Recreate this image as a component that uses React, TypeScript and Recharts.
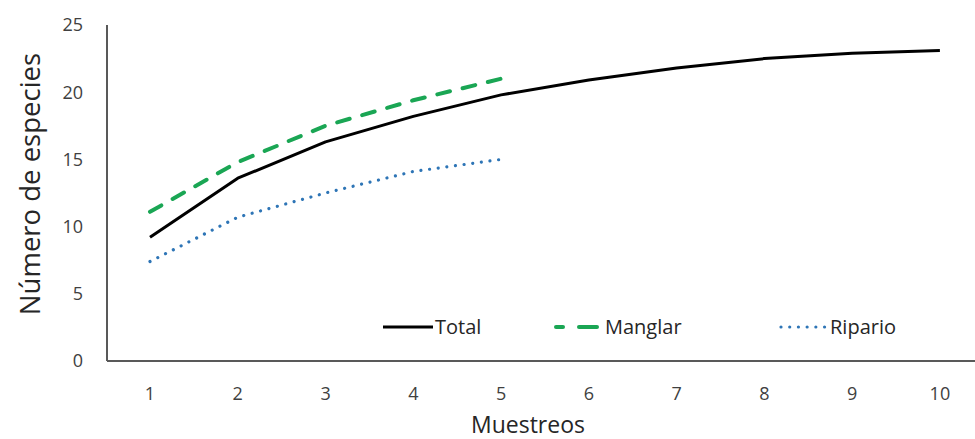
import React from 'react';
import { LineChart, Line, XAxis, YAxis, Legend } from 'recharts';

const muestreos = [1, 2, 3, 4, 5, 6, 7, 8, 9, 10];
const total = [9.2, 13.6, 16.3, 18.2, 19.8, 20.9, 21.8, 22.5, 22.9, 23.1];
const manglar = [11.1, 14.8, 17.5, 19.4, 21.0];
const ripario = [7.4, 10.7, 12.5, 14.1, 15.0];
const yTicks = [0, 5, 10, 15, 20, 25];
const seriesNames = ['Total', 'Manglar', 'Ripario'];

const data = muestreos.map((m, i) => ({
  m,
  total: total[i],
  manglar: i < manglar.length ? manglar[i] : null,
  ripario: i < ripario.length ? ripario[i] : null,
}));

const FONT = '"Open Sans", sans-serif';

const styles = [
  { key: 'total', color: '#000000', width: 3, dash: undefined as string | undefined, cap: 'butt' as const },
  { key: 'manglar', color: '#1aa654', width: 4, dash: '13 13', cap: 'round' as const },
  { key: 'ripario', color: '#2e75b6', width: 3.2, dash: '0.01 8.7', cap: 'round' as const },
];

const YLabel = (props: any) => {
  const vb = props.viewBox || { x: 0, y: 0, width: 0, height: 0 };
  const cx = 29;
  const cy = vb.y + vb.height / 2 - 9;
  return (
    <text
      x={cx}
      y={cy}
      transform={`rotate(-90 ${cx} ${cy})`}
      textAnchor="middle"
      dominantBaseline="central"
      fontFamily={FONT}
      fontSize={27.5}
      fill="#262626"
    >
      Número de especies
    </text>
  );
};

const XLabel = (props: any) => {
  const vb = props.viewBox || { x: 0, y: 0, width: 0, height: 0 };
  const cx = vb.x + vb.width / 2 - 13;
  const cy = vb.y + 63;
  return (
    <text x={cx} y={cy} textAnchor="middle" dominantBaseline="central" fontFamily={FONT} fontSize={23} fill="#262626">
      Muestreos
    </text>
  );
};

const itemWidths = [170, 225, 140];

const Sample = ({ s }: { s: (typeof styles)[number] }) => {
  if (s.key === 'manglar') {
    return (
      <svg width={50} height={10} style={{ marginRight: 2 }}>
        <line x1={3} y1={5} x2={10} y2={5} stroke={s.color} strokeWidth={s.width} strokeLinecap="round" />
        <line x1={26} y1={5} x2={44} y2={5} stroke={s.color} strokeWidth={s.width} strokeLinecap="round" />
      </svg>
    );
  }
  return (
    <svg width={50} height={10} style={{ marginRight: 2 }}>
      <line
        x1={s.cap === 'round' ? 3 : 0}
        y1={5}
        x2={s.cap === 'round' ? 48 : 50}
        y2={5}
        stroke={s.color}
        strokeWidth={s.width}
        strokeDasharray={s.dash}
        strokeLinecap={s.cap}
      />
    </svg>
  );
};

const LegendContent = () => (
  <div style={{ display: 'flex', fontFamily: FONT, fontSize: 20, color: '#262626', alignItems: 'center' }}>
    {styles.map((s, i) => (
      <div key={s.key} style={{ display: 'flex', alignItems: 'center', width: itemWidths[i] }}>
        <Sample s={s} />
        <span>{seriesNames[i]}</span>
      </div>
    ))}
  </div>
);

export default function App() {
  return (
    <div style={{ position: 'absolute', left: 0, top: 0, width: 975, height: 439, background: '#fff' }}>
      <LineChart width={975} height={439} data={data} margin={{ top: 25, right: 0, bottom: 0, left: 0 }}>
        <XAxis
          dataKey="m"
          type="number"
          domain={[0.51, 10.4]}
          allowDataOverflow
          ticks={muestreos}
          interval={0}
          height={78}
          tickLine={false}
          tickMargin={20}
          axisLine={{ stroke: '#595959', strokeWidth: 2 }}
          tick={{ fontFamily: FONT, fontSize: 18, fill: '#404040' }}
          label={<XLabel />}
        />
        <YAxis
          type="number"
          domain={[0, 25]}
          ticks={yTicks}
          interval={0}
          width={107}
          tickLine={false}
          tickMargin={18}
          axisLine={{ stroke: '#595959', strokeWidth: 2 }}
          tick={{ fontFamily: FONT, fontSize: 18, fill: '#404040' }}
          label={<YLabel />}
        />
        <Legend
          layout="horizontal"
          verticalAlign="middle"
          align="center"
          content={<LegendContent />}
          wrapperStyle={{ position: 'absolute', left: 383, top: 313, width: 560, height: 28 }}
        />
        {styles.map((s, i) => (
          <Line
            key={s.key}
            type="linear"
            dataKey={s.key}
            name={seriesNames[i]}
            stroke={s.color}
            strokeWidth={s.width}
            strokeDasharray={s.dash}
            strokeLinecap={s.cap}
            strokeLinejoin="round"
            dot={false}
            activeDot={false}
            isAnimationActive={false}
            connectNulls={false}
          />
        ))}
      </LineChart>
    </div>
  );
}
